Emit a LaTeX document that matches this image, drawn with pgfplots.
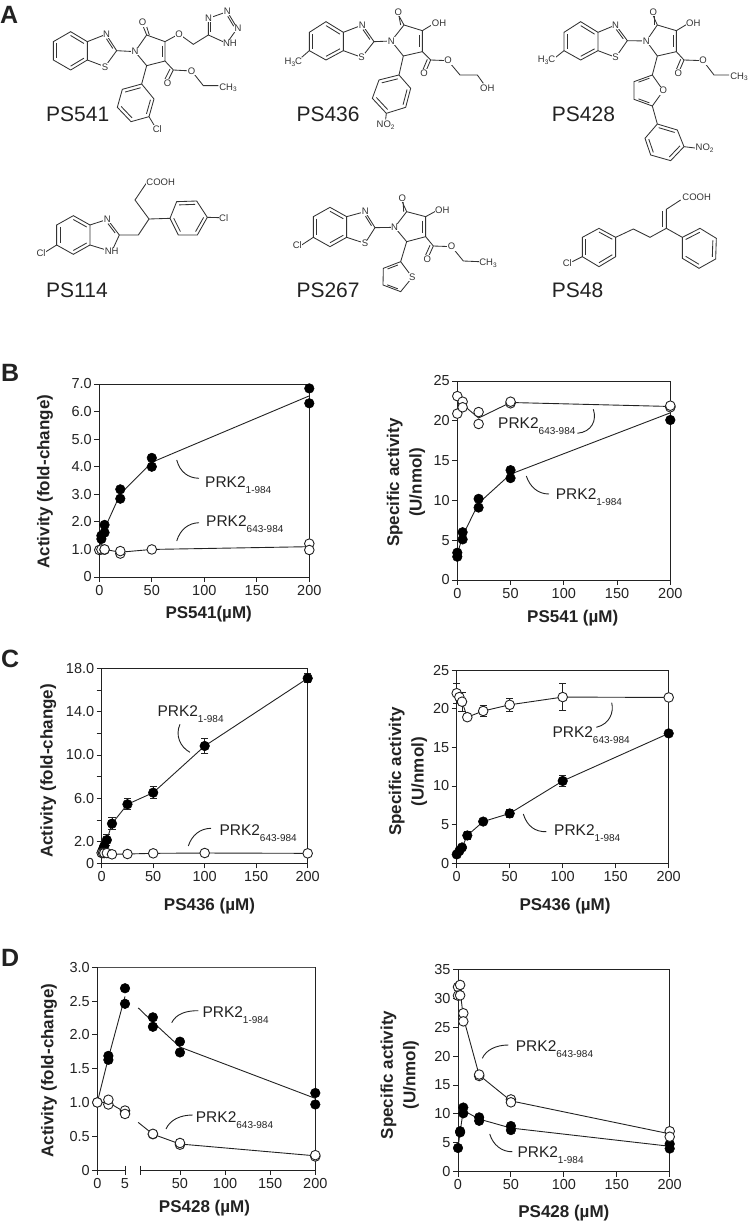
\documentclass[border=0pt]{standalone}
\usepackage{fontspec}
\setmainfont{Liberation Sans}
\usepackage{pgfplots}
\pgfplotsset{compat=1.18}
\usetikzlibrary{calc}
\definecolor{ink}{HTML}{222222}
\definecolor{mol}{HTML}{333333}
\newcommand{\fs}[1]{\fontsize{#1}{#1}\selectfont}
\pgfplotsset{
  pan/.style={scale only axis, clip=false, axis line style={ink,line width=0.9pt},
    tick style={ink,line width=0.9pt}, tick align=outside, major tick length=5pt,
    xtick pos=bottom, ytick pos=left, xmin=0, xmax=200,
    xtick={0,50,100,150,200}, xticklabels={0,50,100,150,200},
    tick label style={font=\fs{14.5},text=ink},
    xticklabel style={yshift=0.5pt}, yticklabel style={xshift=1pt},
    label style={font=\bfseries\fontsize{17}{22.5}\selectfont,text=ink},
    ylabel style={align=center}},
  ln/.style={ink,line width=0.9pt,no marks},
  blk/.style={only marks,mark=*,mark size=4.8pt,mark options={fill=black,draw=black,line width=0.5pt}},
  wht/.style={only marks,mark=*,mark size=4.8pt,mark options={fill=white,draw=ink,line width=0.9pt}},
  eb/.style={error bars/.cd,y dir=both,y explicit,
    error bar style={ink,line width=0.9pt},
    error mark options={rotate=90,ink,line width=0.9pt,mark size=3.6pt}},
}
\newcommand{\prk}[3]{\node[anchor=base west,inner sep=0pt,text=ink,font=\fs{15.5}] at (#1,#2) {PRK2\raisebox{-6pt}{\fs{10}#3}};}
\newcommand{\ringd}[6]{%
  \draw[molb] (#1)--(#2)--(#3)--(#4)--(#5)--(#6)--cycle;
  \coordinate (cc) at ($(#1)!.5!(#4)$);
  \draw[molb] ($(#1)!.2!(cc)$)--($(#2)!.2!(cc)$);
  \draw[molb] ($(#3)!.2!(cc)$)--($(#4)!.2!(cc)$);
  \draw[molb] ($(#5)!.2!(cc)$)--($(#6)!.2!(cc)$);}
\newcommand{\dbl}[3]{\draw[molb] ($(#1)!.15!(#2)!.15!(#3)$)--($(#2)!.15!(#1)!.15!(#3)$);}
\newcommand{\atm}[3]{\node[fill=white,inner sep=0.5pt,text=mol,font=\fs{9.5}] at (#1,#2) {#3};}
\newcommand{\sbs}[1]{\raisebox{-1.8pt}{\fs{6.5}#1}}
\newcommand{\pname}[3]{\node[anchor=base west,inner sep=0pt,text=ink,font=\fs{21}] at (#1,#2) {#3};}
\newcommand{\plet}[3]{\node[anchor=base west,inner sep=0pt,text=ink,font=\bfseries\fs{25}] at (#1,#2) {#3};}
\begin{document}
\begin{tikzpicture}
\path[use as bounding box] (0,0) rectangle (748pt,-1225pt);

% ---------- structures (coordinates in 1/3 pixel) ----------
\begin{scope}[x=0.33333pt,y=-0.33333pt,molb/.style={mol,line width=0.85pt}]
% PS541
\ringd{160,125}{160,180}{212,210}{262,180}{262,125}{212,95}
\draw[molb] (262,125)--(318,103)--(350,152)--(315,200)--(262,180);
\dbl{318,103}{350,152}{300,150}
\draw[molb] (350,152)--(405,155)--(440,105)--(495,125)--(495,183)--(440,197)--(405,155);
\dbl{495,125}{495,183}{440,155}
\draw[molb] (440,105)--(425,68); \draw[molb] (448,105)--(436,68);
\draw[molb] (495,125)--(537,102)--(580,133)--(625,105)--(625,55)--(682,35)--(712,85)--(680,130)--(625,105);
\dbl{625,105}{625,55}{665,85}
\dbl{682,35}{712,85}{665,85}
\draw[molb] (495,183)--(520,210)--(575,213)--(610,257)--(655,257);
\draw[molb] (520,210)--(500,250); \draw[molb] (510,207)--(490,247);
\draw[molb] (440,197)--(425,252);
\ringd{425,252}{367,268}{352,322}{393,365}{447,350}{462,297}
\draw[molb] (447,350)--(462,375);
\atm{320}{103}{N}\atm{315}{202}{S}\atm{405}{155}{N}\atm{428}{68}{O}\atm{537}{102}{O}
\atm{626}{54}{N}\atm{682}{35}{N}\atm{714}{85}{N}\atm{690}{131}{NH}
\atm{503}{250}{O}\atm{575}{213}{O}\atm{684}{263}{CH\sbs{3}}\atm{472}{386}{Cl}
% PS114
\ringd{170,675}{170,735}{220,763}{270,735}{270,675}{220,647}
\draw[molb] (270,675)--(322,658)--(358,705)--(335,755)--(270,735);
\dbl{322,658}{358,705}{305,705}
\draw[molb] (358,705)--(415,705)--(447,657)--(405,600)--(440,548);
\draw[molb] (447,657)--(510,655);
\ringd{510,655}{535,705}{592,705}{622,652}{590,603}{530,605}
\draw[molb] (622,652)--(660,653);
\draw[molb] (170,735)--(130,760);
\atm{322}{659}{N}\atm{335}{755}{NH}\atm{482}{548}{COOH}\atm{671}{653}{Cl}\atm{123}{760}{Cl}
% PS436
\ringd{928,97}{928,152}{978,180}{1030,152}{1030,97}{978,65}
\draw[molb] (928,152)--(905,172);
\draw[molb] (1030,97)--(1087,75)--(1122,125)--(1085,172)--(1030,152);
\dbl{1087,75}{1122,125}{1070,125}
\draw[molb] (1122,125)--(1174,123)--(1212,75)--(1267,92)--(1267,155)--(1210,168)--(1174,123);
\dbl{1267,92}{1267,155}{1212,125}
\draw[molb] (1212,75)--(1191,37); \draw[molb] (1202,75)--(1195,37);
\draw[molb] (1267,92)--(1300,72);
\draw[molb] (1267,155)--(1292,180)--(1344,182)--(1380,225)--(1432,225)--(1450,250);
\draw[molb] (1292,180)--(1275,220); \draw[molb] (1282,178)--(1265,218);
\draw[molb] (1210,168)--(1197,225);
\ringd{1197,225}{1137,240}{1117,295}{1159,340}{1217,322}{1232,265}
\draw[molb] (1159,340)--(1157,358);
\atm{880}{187}{H\sbs{3}C}\atm{1087}{75}{N}\atm{1085}{172}{S}\atm{1174}{123}{N}\atm{1195}{37}{O}
\atm{1317}{70}{OH}\atm{1272}{220}{O}\atm{1344}{182}{O}\atm{1462}{265}{OH}\atm{1157}{375}{NO\sbs{2}}
% PS267
\ringd{940,650}{940,712}{990,740}{1040,712}{1040,650}{990,622}
\draw[molb] (940,712)--(905,735);
\draw[molb] (1040,650)--(1095,635)--(1125,683)--(1095,730)--(1040,712);
\dbl{1095,635}{1125,683}{1080,685}
\draw[molb] (1125,683)--(1184,682)--(1220,635)--(1277,650)--(1277,710)--(1220,725)--(1184,682);
\dbl{1277,650}{1277,710}{1220,680}
\draw[molb] (1220,635)--(1202,595); \draw[molb] (1211,635)--(1209,595);
\draw[molb] (1277,650)--(1310,632);
\draw[molb] (1277,710)--(1300,738)--(1355,740)--(1390,783)--(1437,785);
\draw[molb] (1300,738)--(1282,778); \draw[molb] (1290,736)--(1272,776);
\draw[molb] (1220,725)--(1202,785);
\draw[molb] (1202,785)--(1150,805)--(1149,855)--(1202,875)--(1237,832)--cycle;
\dbl{1202,785}{1150,805}{1190,835}
\dbl{1149,855}{1202,875}{1190,835}
\atm{892}{736}{Cl}\atm{1096}{635}{N}\atm{1095}{731}{S}\atm{1184}{682}{N}\atm{1207}{595}{O}
\atm{1327}{630}{OH}\atm{1282}{778}{O}\atm{1355}{740}{O}\atm{1464}{790}{CH\sbs{3}}\atm{1237}{832}{S}
% PS428
\ringd{1692,97}{1692,152}{1742,180}{1794,152}{1794,97}{1742,65}
\draw[molb] (1692,152)--(1667,172);
\draw[molb] (1794,97)--(1847,75)--(1882,122)--(1847,172)--(1794,152);
\dbl{1847,75}{1882,122}{1830,125}
\draw[molb] (1882,122)--(1939,123)--(1972,75)--(2029,92)--(2029,155)--(1972,168)--(1939,123);
\dbl{2029,92}{2029,155}{1972,125}
\draw[molb] (1972,75)--(1955,37); \draw[molb] (1963,75)--(1963,37);
\draw[molb] (2029,92)--(2062,72);
\draw[molb] (2029,155)--(2052,180)--(2109,182)--(2142,225)--(2187,225);
\draw[molb] (2052,180)--(2035,220); \draw[molb] (2042,178)--(2025,218);
\draw[molb] (1972,168)--(1957,225);
\draw[molb] (1957,225)--(1902,245)--(1902,298)--(1957,318)--(1990,272)--cycle;
\dbl{1957,225}{1902,245}{1945,272}
\dbl{1902,298}{1957,318}{1945,272}
\draw[molb] (1957,318)--(1972,372);
\ringd{1972,372}{2032,390}{2052,440}{2012,482}{1952,465}{1935,415}
\draw[molb] (2052,440)--(2085,444);
\atm{1640}{180}{H\sbs{3}C}\atm{1847}{75}{N}\atm{1847}{172}{S}\atm{1939}{123}{N}\atm{1960}{37}{O}
\atm{2080}{70}{OH}\atm{2035}{220}{O}\atm{2109}{182}{O}\atm{2217}{230}{CH\sbs{3}}\atm{1990}{272}{O}\atm{2114}{445}{NO\sbs{2}}
% PS48
\ringd{1747,712}{1747,770}{1797,800}{1847,770}{1847,712}{1797,685}
\draw[molb] (1747,770)--(1717,785);
\draw[molb] (1847,712)--(1900,687)--(1950,712)--(1999,685);
\draw[molb] (1999,685)--(1999,628)--(2042,600);
\draw[molb] (1988,680)--(1988,633);
\draw[molb] (1999,685)--(2047,712);
\ringd{2047,712}{2100,685}{2149,715}{2147,777}{2097,805}{2047,775}
\atm{1702}{790}{Cl}\atm{2090}{593}{COOH}
\end{scope}

% ---------- names, panel letters, frame pieces of D left ----------
\begin{scope}[x=1pt,y=-1pt]
\pname{46}{121.7}{PS541}\pname{296.3}{121.7}{PS436}\pname{551.7}{121.7}{PS428}
\pname{46}{297.7}{PS114}\pname{296.3}{297.7}{PS267}\pname{551.7}{297.7}{PS48}
\plet{0}{24}{A}\plet{1}{381.7}{B}\plet{1}{667}{C}\plet{1}{966.7}{D}
\draw[ink!80,line width=0.8pt] (97.3,967.3)--(315.3,967.3);
\draw[ink,line width=0.9pt] (315.3,967.3)--(315.3,1170);
\end{scope}

% ---------- B left ----------
\begin{axis}[pan,at={(99.3pt,-577pt)},anchor=south west,width=210pt,height=193pt,
  ymin=0,ymax=7,ytick={0,1,2,3,4,5,6,7},yticklabels={0,1.0,2.0,3.0,4.0,5.0,6.0,7.0},
  xlabel={PS541(µM)},ylabel={Activity (fold-change)},
  xlabel style={at={(axis description cs:0.521,-0.192)},anchor=center},
  ylabel style={at={(axis description cs:-0.259,0.494)},anchor=center}]
\addplot[ln] coordinates {(0,1)(2,1.45)(5,1.75)(20,3.01)(50,4.16)(200,6.57)};
\addplot[blk] coordinates {(2,1.38)(2,1.5)(5,1.61)(5,1.89)(20,2.84)(20,3.18)(50,4.0)(50,4.32)(200,6.3)(200,6.84)};
\addplot[ln] coordinates {(0,1)(2,1)(5,1)(20,0.9)(50,1.0)(200,1.1)};
\addplot[wht] coordinates {(0,0.98)(2,1.0)(5,0.99)(5,1.0)(20,0.85)(20,0.94)(50,1.0)(200,1.21)(200,0.98)};
\end{axis}

% ---------- B right ----------
\begin{axis}[pan,at={(457.3pt,-580pt)},anchor=south west,width=213pt,height=199pt,
  ymin=0,ymax=25,ytick={0,5,10,15,20,25},yticklabels={0,5,10,15,20,25},
  xlabel={PS541 (µM)},ylabel={Specific activity\\(U/nmol)},
  xlabel style={at={(axis description cs:0.542,-0.192)},anchor=center},
  ylabel style={at={(axis description cs:-0.241,0.49)},anchor=center}]
\addplot[ln] coordinates {(0,3.2)(5,5.55)(20,9.65)(50,13.3)(200,21)};
\addplot[blk] coordinates {(0,2.93)(0,3.43)(5,5.1)(5,6.0)(20,9.1)(20,10.2)(50,12.8)(50,13.8)(200,20.1)(200,21.8)};
\addplot[ln] coordinates {(0,22)(5,22.05)(20,20.35)(50,22.3)(200,21.8)};
\addplot[wht] coordinates {(0,23.1)(0,20.9)(5,22.4)(5,21.7)(20,21.1)(20,19.6)(50,22.2)(50,22.4)(200,21.7)(200,21.9)};
\end{axis}

% ---------- C left ----------
\begin{axis}[pan,at={(101.7pt,-863.3pt)},anchor=south west,width=206pt,height=195pt,
  ymin=0,ymax=18,ytick={0,2,4,6,8,10,12,14,16,18},yticklabels={0,2.0,,6.0,,10.0,,14.0,,18.0},
  xlabel={PS436 (µM)},ylabel={Activity (fold-change)},
  xlabel style={at={(axis description cs:0.523,-0.217)},anchor=center},
  ylabel style={at={(axis description cs:-0.259,0.474)},anchor=center}]
\addplot[ln,eb] coordinates {(0,1)+-(0,0.1)(1.25,1.3)+-(0,0.3)(2.5,1.6)+-(0,0.4)(5,2.15)+-(0,0.5)(10,3.66)+-(0,0.57)(25,5.45)+-(0,0.5)(50,6.52)+-(0,0.57)(100,10.83)+-(0,0.72)(200,17.08)+-(0,0.4)};
\addplot[blk] coordinates {(0,1)(1.25,1.3)(2.5,1.6)(5,2.15)(10,3.66)(25,5.45)(50,6.52)(100,10.83)(200,17.08)};
\addplot[ln] coordinates {(0,0.95)(1.25,0.95)(2.5,0.95)(5,0.95)(10,0.83)(25,0.86)(50,0.92)(100,0.95)(200,0.92)};
\addplot[wht] coordinates {(0,0.95)(1.25,0.95)(2.5,0.95)(5,0.95)(10,0.83)(25,0.86)(50,0.92)(100,0.95)(200,0.92)};
\end{axis}

% ---------- C right ----------
\begin{axis}[pan,at={(456.7pt,-863.3pt)},anchor=south west,width=212pt,height=193.3pt,
  ymin=0,ymax=25,ytick={0,5,10,15,20,25},yticklabels={0,5,10,15,20,25},
  xlabel={PS436 (µM)},ylabel={Specific activity\\(U/nmol)},
  xlabel style={at={(axis description cs:0.511,-0.22)},anchor=center},
  ylabel style={at={(axis description cs:-0.23,0.474)},anchor=center}]
\addplot[ln,eb] coordinates {(0,22.0)+-(0,1.3)(2.5,21.5)+-(0,0.6)(5,20.9)+-(0,1.25)(10,18.9)+-(0,0.2)(25,19.7)+-(0,0.7)(50,20.5)+-(0,0.85)(100,21.5)+-(0,1.7)(200,21.45)+-(0,0.1)};
\addplot[wht] coordinates {(0,22.0)(2.5,21.5)(5,20.9)(10,18.9)(25,19.7)(50,20.5)(100,21.5)(200,21.45)};
\addplot[ln,eb] coordinates {(0,1.15)+-(0,0.1)(2.5,1.6)+-(0,0.1)(5,2.05)+-(0,0.3)(10,3.6)+-(0,0.5)(25,5.4)+-(0,0.2)(50,6.45)+-(0,0.5)(100,10.65)+-(0,0.65)(200,16.8)+-(0,0.2)};
\addplot[blk] coordinates {(0,1.15)(2.5,1.6)(5,2.05)(10,3.6)(25,5.4)(50,6.45)(100,10.65)(200,16.8)};
\end{axis}

% ---------- D left (two axes: broken x scale) ----------
\begin{axis}[pan,at={(97.3pt,-1170pt)},anchor=south west,width=27.7pt,height=202.7pt,
  axis x line*=bottom,axis y line*=left,
  xmin=0,xmax=5,xtick={0,5},xticklabels={0,5},
  ymin=0,ymax=3,ytick={0,0.5,1,1.5,2,2.5,3},yticklabels={0,0.5,1.0,1.5,2.0,2.5,3.0},
  ylabel={Activity (fold-change)},
  ylabel style={at={(axis description cs:-1.744,0.49)},anchor=center}]
\addplot[ln] coordinates {(0,1)(2,1.66)(5,2.57)};
\addplot[blk] coordinates {(0,1)(2,1.63)(2,1.69)(5,2.46)(5,2.69)};
\addplot[ln] coordinates {(0,1)(2,1.0)(5,0.855)};
\addplot[wht] coordinates {(0,1)(2,0.97)(2,1.04)(5,0.88)(5,0.83)};
\end{axis}
\begin{axis}[pan,at={(140pt,-1170pt)},anchor=south west,width=175.3pt,height=202.7pt,
  axis x line*=bottom,hide y axis,
  xmin=5.7,xmax=200,xtick={50,100,150,200},xticklabels={50,100,150,200},
  ymin=0,ymax=3,
  xlabel={PS428 (µM)},
  xlabel style={at={(axis description cs:0.368,-0.189)},anchor=center}]
\addplot[ln] coordinates {(3.7,2.40)(20,2.19)(50,1.82)(200,1.06)};
\addplot[blk] coordinates {(20,2.12)(20,2.26)(50,1.74)(50,1.90)(200,0.97)(200,1.14)};
\addplot[ln] coordinates {(3.7,0.705)(20,0.53)(50,0.385)(200,0.21)};
\addplot[wht] coordinates {(20,0.53)(20,0.535)(50,0.375)(50,0.40)(200,0.20)(200,0.22)};
\end{axis}

% ---------- D right ----------
\begin{axis}[pan,at={(458pt,-1171.7pt)},anchor=south west,width=211.7pt,height=202.4pt,
  ymin=0,ymax=35,ytick={0,5,10,15,20,25,30,35},yticklabels={0,5,10,15,20,25,30,35},
  xlabel={PS428 (µM)},ylabel={Specific activity\\(U/nmol)},
  xlabel style={at={(axis description cs:0.5,-0.206)},anchor=center},
  ylabel style={at={(axis description cs:-0.275,0.478)},anchor=center}]
\addplot[ln] coordinates {(0,4.1)(2,6.9)(5,10.6)(20,9.1)(50,7.55)(200,4.4)};
\addplot[blk] coordinates {(0,4.1)(2,6.8)(2,7.0)(5,10.1)(5,11.1)(20,8.8)(20,9.4)(50,7.2)(50,7.9)(200,4.0)(200,4.8)};
\addplot[ln] coordinates {(0,31.2)(2,31.4)(5,26.7)(20,16.7)(50,12.25)(200,6.55)};
\addplot[wht] coordinates {(0,31.95)(0,30.45)(2,32.3)(2,30.5)(5,27.4)(5,26.0)(20,16.55)(20,16.8)(50,12.5)(50,12.0)(200,7.0)(200,6.05)};
\end{axis}

% ---------- call-outs, labels, break ticks ----------
\begin{scope}[x=1pt,y=-1pt]
\draw[ink,line width=0.9pt] (125,1165.7)--(125,1175) (140,1165.7)--(140,1175);
\tikzset{co/.style={ink,line width=0.9pt}}
\prk{205}{487}{1-984}\draw[co] (176.7,460) .. controls (180,472) and (188,478) .. (199,478.3);
\prk{206}{526.7}{643-984}\draw[co] (176.7,541) .. controls (180,530) and (188,523) .. (199,522.7);
\prk{498}{428.3}{643-984}\draw[co] (577.3,433.3) .. controls (592,432) and (597,420) .. (593.3,409.3);
\prk{555.7}{499}{1-984}\draw[co] (526.3,476) .. controls (530,487) and (538,494) .. (549,494);
\prk{157.3}{716}{1-984}\draw[co] (180,724.3) .. controls (175,735) and (180,747) .. (190,752.3);
\prk{219.3}{835}{643-984}\draw[co] (188.3,846) .. controls (192,835) and (200,828.5) .. (211,828.3);
\prk{552.3}{737.3}{643-984}\draw[co] (596.3,727.3) .. controls (610,724) and (614,712) .. (611.7,702.7);
\prk{554}{835}{1-984}\draw[co] (523.3,814) .. controls (527,826) and (535,832) .. (546.3,831.7);
\prk{202.3}{1017.3}{1-984}\draw[co] (171.7,1022.7) .. controls (176,1014) and (186,1010.5) .. (198.3,1010.7);
\prk{195.7}{1122.7}{643-984}\draw[co] (166,1129) .. controls (170,1120) and (180,1115) .. (192.7,1115);
\prk{515.7}{1051.3}{643-984}\draw[co] (482.3,1058.3) .. controls (486,1050) and (496,1045) .. (508.3,1045);
\prk{517.3}{1157.3}{1-984}\draw[co] (489.7,1134) .. controls (493,1145) and (502,1152) .. (512.3,1151.7);
\end{scope}
\end{tikzpicture}
\end{document}
